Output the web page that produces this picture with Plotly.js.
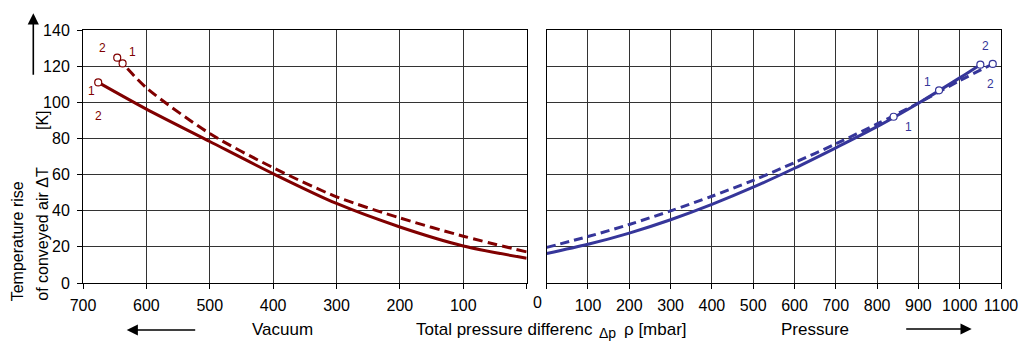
<!DOCTYPE html>
<html>
<head>
<meta charset="utf-8">
<script src="https://cdn.plot.ly/plotly-3.0.1.min.js"></script>
<style>html,body{margin:0;padding:0;background:#fff;}#chart{width:1031px;height:352px;}</style>
</head>
<body>
<div id="chart"></div>
<script>
// Vacuum side (left panel)
const vacSolidX = [676, 600, 500, 400, 300, 200, 100, 0];
const vacSolidY = [111, 96.2, 78.3, 60.5, 44, 31, 20.5, 13.7];
const vacDashX = [646, 637.5, 600, 500, 400, 300, 200, 100, 0];
const vacDashY = [124.7, 121.5, 108, 82.7, 63.8, 47.7, 36, 25.9, 17.2];
const vacMarkX = [676, 646, 637.5];
const vacMarkY = [111, 124.7, 121.5];

// Pressure side (right panel)
const presSolidX = [0, 100, 200, 300, 400, 500, 600, 700, 800, 900, 1000, 1050];
const presSolidY = [16.3, 21.4, 27.6, 35, 43.5, 53, 63.5, 74.8, 86.5, 99.5, 113.5, 120.8];
const presDashX = [0, 100, 200, 300, 400, 500, 600, 700, 800, 900, 1000, 1080];
const presDashY = [19.7, 25.7, 32.4, 39.9, 48, 56.8, 66.6, 77, 88, 99.6, 112, 121.2];
const presMarkX = [840, 950, 1050, 1080];
const presMarkY = [92, 106.6, 120.8, 121.2];

const vacTicks = [700, 600, 500, 400, 300, 200, 100, 0];
const vacTickText = ['700', '600', '500', '400', '300', '200', '100', ''];
const presTicks = [0, 100, 200, 300, 400, 500, 600, 700, 800, 900, 1000, 1100];
const presTickText = ['', '100', '200', '300', '400', '500', '600', '700', '800', '900', '1000', '1100'];
const yTicks = [0, 20, 40, 60, 80, 100, 120, 140];

// point labels
const vacLabX = [669, 622, 687, 676];
const vacLabY = [130.2, 127.6, 106.3, 92.5];
const vacLabT = ['2', '1', '1', '2'];
const presLabX = [1062, 1074, 922, 875];
const presLabY = [131.1, 109.9, 111.4, 86.4];
const presLabT = ['2', '2', '1', '1'];

const RED = '#800000';
const BLUE = '#36369a';
const FONT = 'Liberation Sans, Arial, sans-serif';

const traces = [
  {x: vacSolidX, y: vacSolidY, xaxis: 'x', yaxis: 'y', mode: 'lines',
   line: {color: RED, width: 3, shape: 'spline', smoothing: 0.8}},
  {x: vacDashX, y: vacDashY, xaxis: 'x', yaxis: 'y', mode: 'lines',
   line: {color: RED, width: 3, dash: '10px,5px', shape: 'spline', smoothing: 0.8}},
  {x: vacMarkX, y: vacMarkY, xaxis: 'x', yaxis: 'y', mode: 'markers',
   marker: {size: 7, color: '#fff', line: {color: RED, width: 1.2}}},
  {x: presSolidX, y: presSolidY, xaxis: 'x2', yaxis: 'y2', mode: 'lines',
   line: {color: BLUE, width: 3, shape: 'spline', smoothing: 0.8}},
  {x: presDashX, y: presDashY, xaxis: 'x2', yaxis: 'y2', mode: 'lines',
   line: {color: BLUE, width: 3, dash: '9px,5px', shape: 'spline', smoothing: 0.8}},
  {x: presMarkX, y: presMarkY, xaxis: 'x2', yaxis: 'y2', mode: 'markers',
   marker: {size: 7, color: '#fff', line: {color: BLUE, width: 1.2}}}
];

const annotations = [];
vacLabT.forEach((t, i) => annotations.push({x: vacLabX[i], y: vacLabY[i], xref: 'x', yref: 'y', text: t,
  showarrow: false, font: {family: FONT, size: 12, color: RED}}));
presLabT.forEach((t, i) => annotations.push({x: presLabX[i], y: presLabY[i], xref: 'x2', yref: 'y2', text: t,
  showarrow: false, font: {family: FONT, size: 12, color: BLUE}}));

const txt = (text, x, y, size, extra) => Object.assign({text: text, x: x, y: y, xref: 'paper', yref: 'paper',
  showarrow: false, font: {family: FONT, size: size, color: '#000'}}, extra || {});

annotations.push(txt('0', 0.4946, -0.078, 16, {xanchor: 'center', yanchor: 'middle'}));
annotations.push(txt('Vacuum', 0.2173, -0.183, 17, {xanchor: 'center', yanchor: 'middle'}));
annotations.push(txt('Total pressure differenc', 0.3606, -0.183, 17, {xanchor: 'left', yanchor: 'middle'}));
annotations.push(txt('Δp', (597 - 83) / 918, -0.197, 14, {xanchor: 'left', yanchor: 'middle'}));
annotations.push(txt('ρ [mbar]', (622 - 83) / 918, -0.183, 17, {xanchor: 'left', yanchor: 'middle'}));
annotations.push(txt('Pressure', (815 - 83) / 918, -0.183, 17, {xanchor: 'center', yanchor: 'middle'}));
annotations.push(txt('Temperature rise', -0.0714, 0.1666, 16, {textangle: -90, xanchor: 'center', yanchor: 'middle'}));
annotations.push(txt('of conveyed air ΔT', -0.0441, 0.1929, 16, {textangle: -90, xanchor: 'center', yanchor: 'middle'}));
annotations.push(txt('[K]', -0.0447, 0.644, 16, {textangle: -90, xanchor: 'center', yanchor: 'middle'}));

// arrows
const arrow = (x, y, ax, ay) => ({text: '', x: x, y: y, xref: 'paper', yref: 'paper', ax: ax, ay: ay,
  showarrow: true, arrowhead: 2, arrowsize: 1.4, arrowwidth: 1.6, arrowcolor: '#000', standoff: 0, startstandoff: 0});
annotations.push(arrow((33.3 - 83) / 918, (283 - 13.3) / 253, 0, 63));
annotations.push(arrow((126.7 - 83) / 918, (283 - 330) / 253, 70, 0));
annotations.push(arrow((971.7 - 83) / 918, (283 - 329) / 253, -67, 0));

const gridC = '#333333';
const axCommon = {showgrid: true, gridcolor: gridC, gridwidth: 1, zeroline: false, showline: true,
  linecolor: '#000', linewidth: 1, mirror: true, ticks: 'outside', ticklen: 5, tickcolor: '#000',
  tickfont: {family: FONT, size: 16, color: '#000'}, fixedrange: true};

const layout = {
  width: 1031, height: 352,
  margin: {l: 83, r: 30, t: 30, b: 69},
  paper_bgcolor: '#fff', plot_bgcolor: '#fff',
  showlegend: false,
  xaxis: Object.assign({}, axCommon, {domain: [0, 0.4833], range: [700, 0], anchor: 'y',
    tickmode: 'array', tickvals: vacTicks, ticktext: vacTickText, ticklabelstandoff: 3}),
  xaxis2: Object.assign({}, axCommon, {domain: [0.5051, 1], range: [0, 1100], anchor: 'y2',
    tickmode: 'array', tickvals: presTicks, ticktext: presTickText, ticklabelstandoff: 3}),
  yaxis: Object.assign({}, axCommon, {range: [0, 140], anchor: 'x', tickmode: 'array', tickvals: yTicks,
    ticklabelstandoff: 4}),
  yaxis2: Object.assign({}, axCommon, {range: [0, 140], anchor: 'x2', tickmode: 'array', tickvals: yTicks,
    showticklabels: false, ticks: ''}),
  annotations: annotations,
  font: {family: FONT, size: 16, color: '#000'}
};

Plotly.newPlot('chart', traces, layout, {displayModeBar: false, staticPlot: true});
</script>
</body>
</html>
